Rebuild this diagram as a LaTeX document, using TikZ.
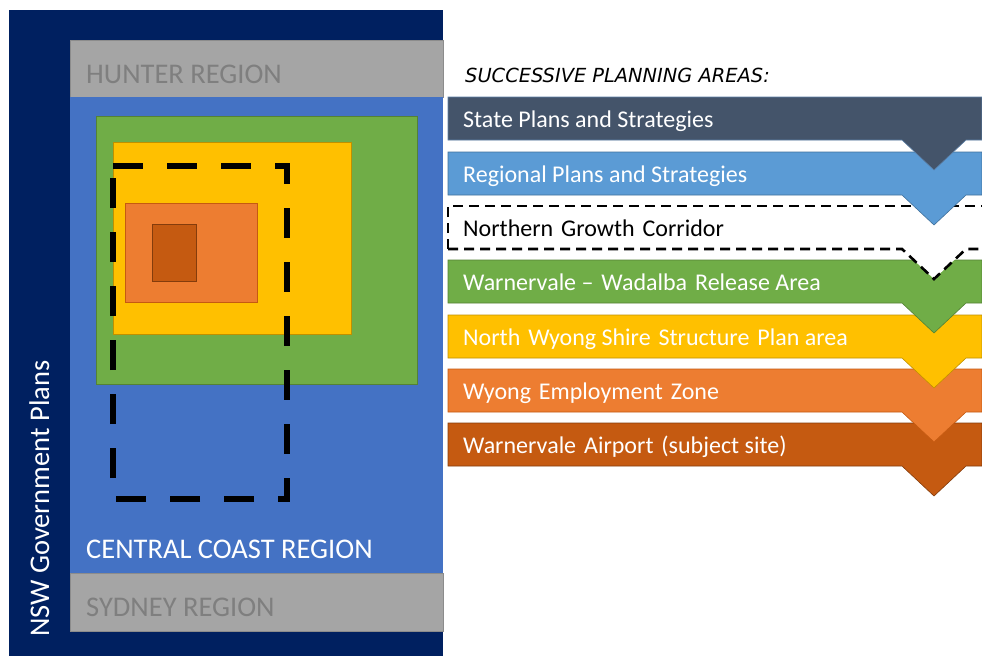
\documentclass[tikz,border=0pt]{standalone}
\usepackage{fontspec}
\setmainfont{Carlito}
\newfontfamily\headfont{DejaVu Sans}
\definecolor{navy}{HTML}{002060}
\definecolor{grayfill}{HTML}{A5A5A5}
\definecolor{grayline}{HTML}{8C8C8C}
\definecolor{graytext}{HTML}{7F7F7F}
\definecolor{regblue}{HTML}{4472C4}
\definecolor{greenf}{HTML}{70AD47}
\definecolor{greenl}{HTML}{548235}
\definecolor{yellowf}{HTML}{FFC000}
\definecolor{yellowl}{HTML}{BF9000}
\definecolor{orangef}{HTML}{ED7D31}
\definecolor{orangel}{HTML}{C55A11}
\definecolor{darkf}{HTML}{C55A11}
\definecolor{darkl}{HTML}{843C0C}
\definecolor{statef}{HTML}{44546A}
\definecolor{statel}{HTML}{5B7FA6}
\definecolor{regionalf}{HTML}{5B9BD5}
\definecolor{regionall}{HTML}{41719C}
\newcommand\chevshape[1]{(448,#1) -- (982,#1) -- (982,#1+43) -- (966,#1+43) -- (934,#1+73) -- (902,#1+43) -- (448,#1+43) -- cycle}
\newcommand\wsp{\hspace{2.5pt}}
\begin{document}
\begin{tikzpicture}[x=1pt,y=-1pt,
  regionlabel/.style={font=\fontsize{28.5}{30}\selectfont, inner sep=0pt, anchor=base west},
  bartext/.style={font=\fontsize{24}{26}\selectfont, inner sep=0pt, anchor=base west, text=white},
  bigdash/.style={black, line width=6pt, dash pattern=on 30pt off 24pt},
  smalldash/.style={black, line width=2.6pt, dash pattern=on 10pt off 6pt}]
\useasboundingbox (0,0) rectangle (982,656);
\fill[white] (0,0) rectangle (982,656);
% left panel
\fill[navy] (9,10) rectangle (443,656);
\filldraw[fill=grayfill, draw=grayline, line width=0.8pt] (70,40) rectangle (443,97);
\fill[regblue] (70,97) rectangle (443,573);
\filldraw[fill=grayfill, draw=grayline, line width=0.8pt] (70,573) rectangle (443,631);
\filldraw[fill=greenf, draw=greenl, line width=0.8pt] (96,116) rectangle (417,384);
\filldraw[fill=yellowf, draw=yellowl, line width=0.8pt] (113,142) rectangle (351,334);
\filldraw[fill=orangef, draw=orangel, line width=0.8pt] (125,203) rectangle (257,302);
\filldraw[fill=darkf, draw=darkl, line width=0.6pt] (152,224) rectangle (196,281);
\draw[bigdash] (113,166) -- (287,166) -- (287,499) -- (113,499) -- cycle;
\node[regionlabel, text=graytext] (hunter) at (86,83) {HUNTER REGION};
\node[regionlabel, text=white] (central) at (86,558) {CENTRAL COAST REGION};
\node[regionlabel, text=graytext] (sydney) at (86,616) {SYDNEY REGION};
\node[regionlabel, text=white, rotate=90] (nsw) at (49,637) {NSW Government Plans};
% right panel
\node[inner sep=0pt, anchor=base west, font=\headfont\itshape\fontsize{19.4}{21}\selectfont] (title) at (465,82) {SUCCESSIVE PLANNING AREAS:};
\filldraw[fill=darkf, draw=darkl, line width=0.6pt] \chevshape{423};
\filldraw[fill=orangef, draw=orangel, line width=0.6pt] \chevshape{369};
\filldraw[fill=yellowf, draw=yellowl, line width=0.6pt] \chevshape{315};
\filldraw[fill=greenf, draw=greenl, line width=0.6pt] \chevshape{260};
\fill[white] \chevshape{206};
\draw[smalldash] (448,249) -- (448,206) -- (982,206);
\draw[smalldash] (448,249) -- (902,249) -- (934,279) -- (966,249) -- (982,249);
\filldraw[fill=regionalf, draw=regionall, line width=0.6pt] \chevshape{152};
\filldraw[fill=statef, draw=statel, line width=0.6pt] \chevshape{97};
\node[bartext] (state) at (463,127) {State Plans and Strategies};
\node[bartext] (regional) at (463,182) {Regional Plans and Strategies};
\node[bartext, text=black] (northern) at (463,236) {Northern \wsp Growth \wsp Corridor};
\node[bartext] (warnervale) at (463,290) {Warnervale – \wsp Wadalba \wsp Release Area};
\node[bartext] (northwyong) at (463,345) {North \wsp Wyong Shire \wsp Structure \wsp Plan area};
\node[bartext] (wyong) at (463,399) {Wyong \wsp Employment \wsp Zone};
\node[bartext] (airport) at (463,453) {Warnervale \wsp Airport \wsp (subject site)};
\end{tikzpicture}
\end{document}
